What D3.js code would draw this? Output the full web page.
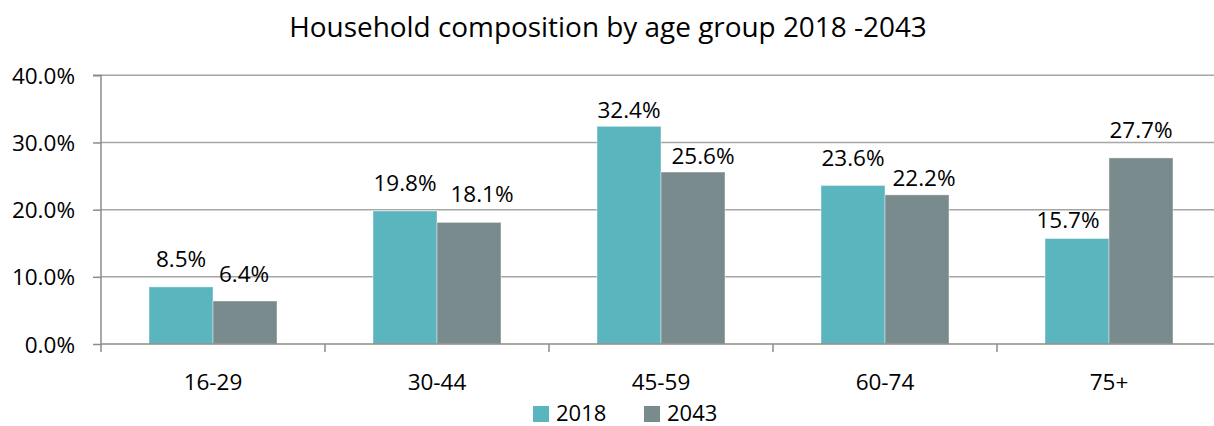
<!DOCTYPE html>
<html>
<head>
<meta charset="utf-8">
<script src="https://cdn.jsdelivr.net/npm/d3@7/dist/d3.min.js"></script>
<style>
  html, body { margin: 0; padding: 0; background: #fff; }
  svg { display: block; }
  text { font-family: "Open Sans", "Noto Sans", sans-serif; fill: #000; }
</style>
</head>
<body>
<svg id="chart" width="1214" height="426"></svg>
<script>
// ---- data ----
const title = "Household composition by age group 2018 -2043";
const categories = ["16-29", "30-44", "45-59", "60-74", "75+"];
const seriesNames = ["2018", "2043"];
const values2018 = [8.5, 19.8, 32.4, 23.6, 15.7];
const values2043 = [6.4, 18.1, 25.6, 22.2, 27.7];
const yTicks = [0, 10, 20, 30, 40];

// ---- layout (not data) ----
const colors = ["#5ab5bf", "#7a8b8d"];
// label nudges (dx, dy) relative to default placement above bar
const labelNudge2018 = [[0, 0], [0, 0], [0, 11], [0, 0], [-9, 9]];
const labelNudge2043 = [[-1, 0], [13, -1], [10, 11], [7, 11], [0, 0]];

const svg = d3.select("#chart");
const plot = { left: 101, right: 1221, top: 75.3, bottom: 344 };

const y = d3.scaleLinear().domain([0, 40]).range([plot.bottom, plot.top]);
const x0 = d3.scaleBand().domain(categories).range([plot.left, plot.right]).padding(0);
const groupW = 128;
const x1 = d3.scaleBand().domain(seriesNames)
  .range([(x0.bandwidth() - groupW) / 2, (x0.bandwidth() + groupW) / 2]).padding(0);

// title
const t = svg.append("text")
  .attr("x", 608).attr("y", 37)
  .attr("text-anchor", "middle")
  .style("font-size", "26px")
  .text(title);
const tw = t.node().getComputedTextLength();
t.style("font-size", (26 * 638 / tw) + "px");

// gridlines
svg.append("g")
  .selectAll("line")
  .data(yTicks.filter(d => d > 0))
  .join("line")
  .attr("x1", plot.left).attr("x2", plot.right)
  .attr("y1", d => y(d)).attr("y2", d => y(d))
  .attr("stroke", "#a6a6a6").attr("stroke-width", 1.5);

// y axis
const yAxis = d3.axisLeft(y).tickValues(yTicks).tickSize(8).tickPadding(18)
  .tickFormat(d => d.toFixed(1) + "%");
const gy = svg.append("g").attr("transform", `translate(${plot.left},0)`).call(yAxis);
gy.select(".domain").attr("stroke", "#8c8c8c").attr("stroke-width", 1.5)
  .attr("d", `M-8,${plot.top}H0V${plot.bottom + 8}`);
gy.selectAll(".tick line").attr("stroke", "#8c8c8c").attr("stroke-width", 1.5);
gy.selectAll(".tick text").style("font-size", "22.5px").attr("fill", "#000")
  .style("font-family", '"Open Sans", sans-serif').attr("dy", "0.36em");

// bars
const groups = svg.append("g").selectAll("g")
  .data(categories)
  .join("g")
  .attr("transform", d => `translate(${x0(d)},0)`);

const seriesVals = [values2018, values2043];
groups.selectAll("rect")
  .data((c, i) => seriesNames.map((s, j) => ({ s, j, v: seriesVals[j][i] })))
  .join("rect")
  .attr("x", d => x1(d.s))
  .attr("width", x1.bandwidth())
  .attr("y", d => y(d.v))
  .attr("height", d => y(0) - y(d.v))
  .attr("fill", d => colors[d.j])
  .attr("stroke", "#ffffff").attr("stroke-opacity", 0.4).attr("stroke-width", 1);

// x axis baseline + ticks
svg.append("line")
  .attr("x1", plot.left).attr("x2", plot.right)
  .attr("y1", plot.bottom).attr("y2", plot.bottom)
  .attr("stroke", "#8c8c8c").attr("stroke-width", 1.5);
svg.append("g").selectAll("line")
  .data(categories.slice(1))
  .join("line")
  .attr("x1", d => x0(d)).attr("x2", d => x0(d))
  .attr("y1", plot.bottom).attr("y2", plot.bottom + 8)
  .attr("stroke", "#8c8c8c").attr("stroke-width", 1.5);

// category labels
svg.append("g").selectAll("text")
  .data(categories)
  .join("text")
  .attr("x", d => x0(d) + x0.bandwidth() / 2)
  .attr("y", 390)
  .attr("text-anchor", "middle")
  .style("font-size", "22.5px")
  .text(d => d);

// data labels
const nudges = [labelNudge2018, labelNudge2043];
groups.selectAll("text.lbl")
  .data((c, i) => seriesNames.map((s, j) => ({ s, j, i, v: seriesVals[j][i] })))
  .join("text")
  .attr("class", "lbl")
  .attr("x", d => x1(d.s) + x1.bandwidth() / 2 + nudges[d.j][d.i][0])
  .attr("y", d => y(d.v) - 19.5 + nudges[d.j][d.i][1])
  .attr("text-anchor", "middle")
  .style("font-size", "22.5px")
  .text(d => d.v.toFixed(1) + "%");

// legend
const legX = [533, 644];
const leg = svg.append("g").selectAll("g")
  .data(seriesNames)
  .join("g")
  .attr("transform", (d, i) => `translate(${legX[i]},406)`);
leg.append("rect").attr("width", 16).attr("height", 16).attr("fill", (d, i) => colors[i]);
leg.append("text").attr("x", 23).attr("y", 15).style("font-size", "22px").text(d => d);
</script>
</body>
</html>
